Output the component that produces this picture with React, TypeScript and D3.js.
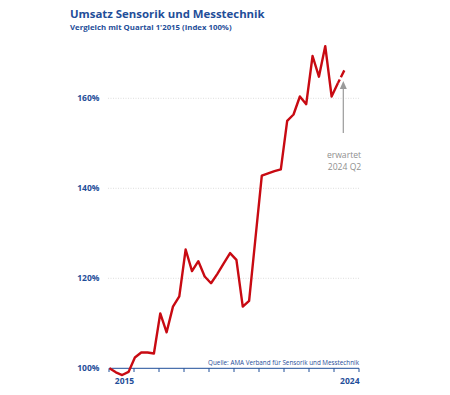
import React from "react";
import * as d3 from "d3";

const years = d3.range(2015, 2025);
const quarters: string[] = years.flatMap((y) => [1, 2, 3, 4].map((q) => `${y} Q${q}`)).slice(0, 38);
const values: number[] = [
  100, 99.1, 98.5, 99.2, 102.4, 103.5, 103.5, 103.3, 112.2, 108.0,
  113.7, 116.0, 126.4, 121.6, 123.8, 120.4, 118.9, 121.0, 123.3, 125.6,
  124.1, 113.7, 115.0, 128.9, 142.8, 143.3, 143.8, 144.2, 155.0, 156.4,
  160.4, 158.7, 169.4, 164.8, 171.6, 160.4, 163.4, 166.2,
];
const forecastFrom = 36; // last actual index
const yTicks: number[] = [100, 120, 140, 160];
const yearTicks: number[] = d3.range(2015, 2026);
const yearLabels: number[] = [2015, 2024];

const BLUE = "#1f4e99";
const RED = "#c80a12";
const FONT = "'Open Sans', sans-serif";

export default function App() {
  const x = d3.scaleLinear().domain([0, quarters.length - 1]).range([109.5, 344.3]);
  const xYear = d3.scaleLinear().domain([2015, 2025]).range([109, 359]);
  const y = d3.scaleLinear().domain([100, 160]).range([368.3, 98.3]);

  const idx = values.map((_, i) => i);
  const mk = d3
    .line<number>()
    .x((i) => x(i))
    .y((i) => y(values[i]));
  const solidPath = mk(idx.slice(0, forecastFrom + 1));
  const dashPath = mk(idx.slice(forecastFrom));

  const lastX = x(values.length - 1);

  return (
    <svg
      width={450}
      height={395}
      style={{ position: "absolute", left: 0, top: 0, background: "#fff" }}
      fontFamily={FONT}
    >
      <text x={70} y={18.3} fontSize={11.4} fontWeight={700} fill={BLUE}>
        Umsatz Sensorik und Messtechnik
      </text>
      <text x={70} y={30.3} fontSize={7.8} fontWeight={700} fill={BLUE}>
        Vergleich mit Quartal 1'2015 (Index 100%)
      </text>

      {yTicks.map((t) => (
        <g key={t}>
          {t !== 100 && (
            <line
              x1={108}
              x2={360}
              y1={y(t)}
              y2={y(t)}
              stroke="#d4d4d4"
              strokeWidth={0.8}
              strokeDasharray="1,1.5"
            />
          )}
          <text
            x={99.5}
            y={y(t)}
            dy="0.35em"
            textAnchor="end"
            fontSize={8.5}
            fontWeight={700}
            fill={BLUE}
          >
            {t}%
          </text>
        </g>
      ))}

      <text x={359} y={365} textAnchor="end" fontSize={6.3} fill={BLUE}>
        Quelle: AMA Verband für Sensorik und Messtechnik
      </text>

      <line x1={xYear(2015)} x2={xYear(2025)} y1={368.3} y2={368.3} stroke={BLUE} strokeWidth={1} />
      {yearTicks.map((t) => (
        <line key={t} x1={xYear(t)} x2={xYear(t)} y1={368.3} y2={372} stroke={BLUE} strokeWidth={1} />
      ))}
      {yearLabels.map((t) => (
        <text
          key={t}
          x={t === 2015 ? xYear(t) + 15.5 : xYear(t + 1) + 0.5}
          y={384}
          textAnchor={t === 2015 ? "middle" : "end"}
          fontSize={8.5}
          fontWeight={700}
          fill={BLUE}
        >
          {t}
        </text>
      ))}

      <path d={solidPath || ""} fill="none" stroke={RED} strokeWidth={2.4} strokeLinejoin="round" strokeLinecap="butt" />
      <path d={dashPath || ""} fill="none" stroke={RED} strokeWidth={2.4} strokeDasharray="4,2.5,8" />

      <line x1={lastX - 1} x2={lastX - 1} y1={133} y2={86} stroke="#9a9a9a" strokeWidth={1.2} />
      <path d={`M${lastX - 4.5},89 L${lastX - 1},81 L${lastX + 2.5},89 Z`} fill="#9a9a9a" />
      <text x={344} y={158} textAnchor="middle" fontSize={8.6} fill="#8f8f8f">
        erwartet
      </text>
      <text x={344.5} y={169.5} textAnchor="middle" fontSize={8.6} fill="#8f8f8f">
        2024 Q2
      </text>
    </svg>
  );
}
